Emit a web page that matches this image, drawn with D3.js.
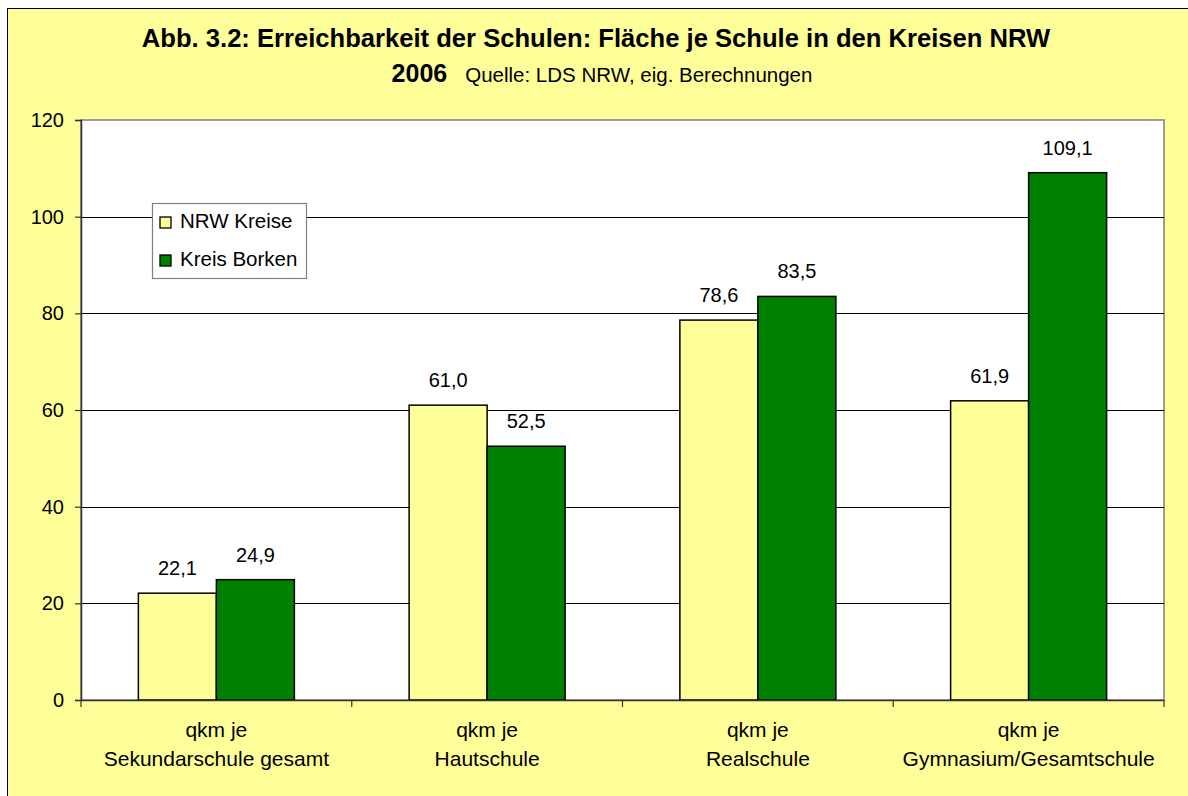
<!DOCTYPE html>
<html>
<head>
<meta charset="utf-8">
<script src="https://cdn.jsdelivr.net/npm/d3@7"></script>
<style>
  html, body { margin: 0; padding: 0; background: #ffffff; }
  svg { display: block; font-family: "Liberation Sans", Arial, sans-serif; }
</style>
</head>
<body>
<svg id="chart" width="1188" height="796"></svg>
<script>
const categories = [
  ["qkm je", "Sekundarschule gesamt"],
  ["qkm je", "Hautschule"],
  ["qkm je", "Realschule"],
  ["qkm je", "Gymnasium/Gesamtschule"]
];
const seriesNames = ["NRW Kreise", "Kreis Borken"];
const nrwKreise = [22.1, 61.0, 78.6, 61.9];
const kreisBorken = [24.9, 52.5, 83.5, 109.1];
const yTicks = [0, 20, 40, 60, 80, 100, 120];
const titleText = "Abb. 3.2: Erreichbarkeit der Schulen: Fläche je Schule in den Kreisen NRW";
const subYear = "2006";
const subSource = "Quelle: LDS NRW, eig. Berechnungen";

const colors = { "NRW Kreise": "#FFFF99", "Kreis Borken": "#008000" };
const values = { "NRW Kreise": nrwKreise, "Kreis Borken": kreisBorken };

const svg = d3.select("#chart");
const W = 1188, H = 796;

// background frame
svg.append("rect").attr("x", 7.5).attr("y", 8.5).attr("width", W).attr("height", H)
  .attr("fill", "#FFFF99").attr("stroke", "#000").attr("stroke-width", 1);

const plot = { left: 81, right: 1164, top: 120, bottom: 700 };

const catIdx = categories.map((d, i) => i);
const x0 = d3.scaleBand().domain(catIdx).range([plot.left, plot.right]).padding(0);
const x1 = d3.scaleBand().domain(seriesNames).range([0, x0.bandwidth()])
  .paddingInner(0).paddingOuter(0.7356);
const y = d3.scaleLinear().domain([0, 120]).range([plot.bottom, plot.top]);

// plot area
svg.append("rect").attr("x", plot.left).attr("y", plot.top)
  .attr("width", plot.right - plot.left).attr("height", plot.bottom - plot.top)
  .attr("fill", "#ffffff").attr("stroke", "#808080").attr("stroke-width", 1.5);

// gridlines
svg.append("g").selectAll("line").data(yTicks.filter(t => t > 0 && t < 120)).join("line")
  .attr("x1", plot.left).attr("x2", plot.right)
  .attr("y1", d => Math.round(y(d)) + 0.5).attr("y2", d => Math.round(y(d)) + 0.5)
  .attr("stroke", "#000").attr("stroke-width", 1);

// y axis
const yAxis = d3.axisLeft(y).tickValues(yTicks).tickSize(6).tickPadding(11);
const gy = svg.append("g").attr("transform", `translate(${plot.left},0)`).call(yAxis);
gy.select(".domain").attr("stroke", "#333").attr("stroke-width", 1.5);
gy.selectAll(".tick line").attr("stroke", "#333").attr("stroke-width", 1.2);
gy.selectAll(".tick text").attr("font-size", 20).attr("fill", "#000")
  .attr("font-family", "Liberation Sans, Arial, sans-serif");

// bars
const groups = svg.append("g").selectAll("g").data(catIdx).join("g")
  .attr("transform", i => `translate(${x0(i)},0)`);
groups.selectAll("rect").data(i => seriesNames.map(s => ({ s, v: values[s][i] }))).join("rect")
  .attr("x", d => x1(d.s)).attr("width", x1.bandwidth())
  .attr("y", d => y(d.v)).attr("height", d => y(0) - y(d.v))
  .attr("fill", d => colors[d.s]).attr("stroke", "#000").attr("stroke-width", 1.5);
groups.selectAll("text").data(i => seriesNames.map(s => ({ s, v: values[s][i] }))).join("text")
  .attr("x", d => x1(d.s) + x1.bandwidth() / 2).attr("y", d => y(d.v) - 18)
  .attr("text-anchor", "middle").attr("font-size", 20).attr("fill", "#000")
  .text(d => d3.format(".1f")(d.v).replace(".", ","));

// x axis
const xAxis = d3.axisBottom(x0).tickSize(0).tickFormat(() => "");
const gx = svg.append("g").attr("transform", `translate(0,${plot.bottom})`).call(xAxis);
gx.select(".domain").attr("stroke", "#333").attr("stroke-width", 1.5);
// category boundary ticks
const bounds = catIdx.map(i => x0(i)).concat([x0(catIdx[catIdx.length - 1]) + x0.bandwidth()]);
svg.append("g").selectAll("line").data(bounds).join("line")
  .attr("x1", d => d).attr("x2", d => d).attr("y1", plot.bottom).attr("y2", plot.bottom + 7)
  .attr("stroke", "#333").attr("stroke-width", 1.2);
// category labels
const cl = svg.append("g").selectAll("text").data(catIdx).join("text")
  .attr("x", i => x0(i) + x0.bandwidth() / 2).attr("y", 737)
  .attr("text-anchor", "middle").attr("font-size", 21).attr("fill", "#000");
cl.append("tspan").attr("x", i => x0(i) + x0.bandwidth() / 2).attr("dy", 0).text(i => categories[i][0]);
cl.append("tspan").attr("x", i => x0(i) + x0.bandwidth() / 2).attr("dy", 29).text(i => categories[i][1]);

// legend
const lg = svg.append("g");
lg.append("rect").attr("x", 152.5).attr("y", 203.5).attr("width", 154).attr("height", 75)
  .attr("fill", "#fff").attr("stroke", "#808080").attr("stroke-width", 1.2);
seriesNames.forEach((s, i) => {
  const yy = 217 + i * 38;
  lg.append("rect").attr("x", 160).attr("y", yy).attr("width", 11).attr("height", 11)
    .attr("fill", colors[s]).attr("stroke", "#000").attr("stroke-width", 1.3);
  lg.append("text").attr("x", 180).attr("y", yy + 11).attr("font-size", 20.5).attr("fill", "#000").text(s);
});

// title
svg.append("text").attr("x", 596).attr("y", 47).attr("text-anchor", "middle")
  .attr("font-size", 25.6).attr("font-weight", "bold").attr("fill", "#000").text(titleText);
const sub = svg.append("text").attr("x", 602).attr("y", 82).attr("text-anchor", "middle").attr("fill", "#000");
sub.append("tspan").attr("font-weight", "bold").attr("font-size", 25).text(subYear);
sub.append("tspan").attr("font-size", 20.5).attr("dx", 18).text(subSource);
</script>
</body>
</html>
